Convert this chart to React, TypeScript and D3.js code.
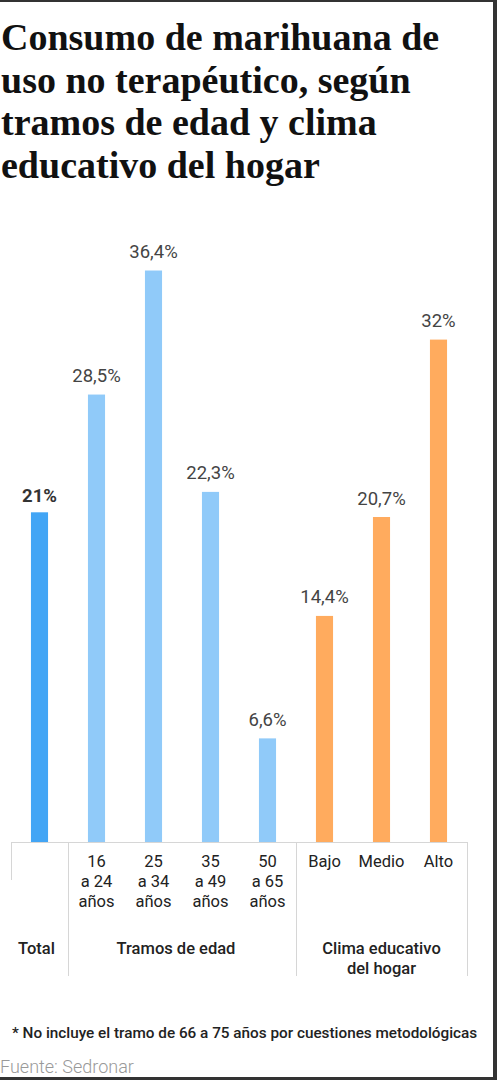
import React, { useEffect, useRef } from 'react';
import * as d3 from 'd3';

// datos del gráfico
const categories = ['Total', '16-24', '25-34', '35-49', '50-65', 'Bajo', 'Medio', 'Alto'];
const values = [21, 28.5, 36.4, 22.3, 6.6, 14.4, 20.7, 32];
const valueLabels = ['21%', '28,5%', '36,4%', '22,3%', '6,6%', '14,4%', '20,7%', '32%'];
const groups = ['total', 'edad', 'edad', 'edad', 'edad', 'clima', 'clima', 'clima'];
const tickLines = [[], ['16', 'a 24', 'años'], ['25', 'a 34', 'años'], ['35', 'a 49', 'años'], ['50', 'a 65', 'años'], ['Bajo'], ['Medio'], ['Alto']];
const groupLabels = [
  { from: 0, to: 0, lines: ['Total'] },
  { from: 1, to: 4, lines: ['Tramos de edad'] },
  { from: 5, to: 7, lines: ['Clima educativo', 'del hogar'] },
];
const titleLines = ['Consumo de marihuana de', 'uso no terapéutico, según', 'tramos de edad y clima', 'educativo del hogar'];
const footnote = '* No incluye el tramo de 66 a 75 años por cuestiones metodológicas';
const source = 'Fuente: Sedronar';

const WIDTH = 497;
const HEIGHT = 1080;
const BASELINE = 842;
const colors: Record<string, string> = { total: '#42a5f5', edad: '#90caf9', clima: '#ffab5e' };
const SANS = 'Roboto, "Noto Sans", sans-serif';

export default function App(): JSX.Element {
  const svgRef = useRef<SVGSVGElement>(null);

  useEffect(() => {
    const svg = d3.select(svgRef.current);
    svg.selectAll('*').remove();

    svg.append('rect').attr('width', WIDTH).attr('height', HEIGHT).attr('fill', '#fff');

    // marco
    svg.append('rect').attr('x', 0).attr('y', 0).attr('width', WIDTH).attr('height', 2).attr('fill', '#333');
    svg.append('rect').attr('x', WIDTH - 4).attr('y', 0).attr('width', 4).attr('height', HEIGHT).attr('fill', '#333');
    svg.append('rect').attr('x', 0).attr('y', HEIGHT - 3).attr('width', WIDTH).attr('height', 3).attr('fill', '#333');

    // titulo
    svg
      .append('g')
      .selectAll('text')
      .data(titleLines)
      .join('text')
      .attr('x', 1)
      .attr('y', (_d, i) => 50 + i * 42.5)
      .attr('font-family', '"Liberation Serif", serif')
      .attr('font-weight', 'bold')
      .attr('font-size', 38)
      .attr('fill', '#111')
      .text((d) => d);

    const x = d3.scaleBand<string>().domain(categories).range([11, 467]).paddingInner(0.7).paddingOuter(0.35);
    const y = d3.scaleLinear().domain([0, 36.4]).range([BASELINE, BASELINE - 36.4 * 15.7]);
    const step = x.step();
    const edge = (i: number) => 11 + i * step;

    const bars = svg.append('g');
    bars
      .selectAll('rect')
      .data(values)
      .join('rect')
      .attr('x', (_d, i) => x(categories[i]) as number)
      .attr('y', (d) => y(d))
      .attr('width', x.bandwidth())
      .attr('height', (d) => BASELINE - y(d))
      .attr('fill', (_d, i) => colors[groups[i]]);

    bars
      .selectAll('text')
      .data(values)
      .join('text')
      .attr('x', (_d, i) => (x(categories[i]) as number) + x.bandwidth() / 2)
      .attr('y', (d, i) => y(d) - (i === 0 ? 10 : 12.5))
      .attr('text-anchor', 'middle')
      .attr('font-family', SANS)
      .attr('font-size', 18.5)
      .attr('font-weight', (_d, i) => (i === 0 ? 'bold' : 'normal'))
      .attr('fill', (_d, i) => (i === 0 ? '#333' : '#444'))
      .text((_d, i) => valueLabels[i]);

    // eje y separadores
    svg.append('line').attr('x1', 11).attr('x2', 468).attr('y1', BASELINE + 0.5).attr('y2', BASELINE + 0.5).attr('stroke', '#d6d6d6');
    const seps = [
      { i: 0, end: 880 },
      { i: 1, end: 976 },
      { i: 5, end: 976 },
      { i: 8, end: 976 },
    ];
    svg
      .append('g')
      .selectAll('line')
      .data(seps)
      .join('line')
      .attr('x1', (d) => Math.round(edge(d.i)) + 0.5)
      .attr('x2', (d) => Math.round(edge(d.i)) + 0.5)
      .attr('y1', BASELINE)
      .attr('y2', (d) => d.end)
      .attr('stroke', '#d6d6d6');

    // etiquetas de categoria
    const ticks = svg.append('g');
    categories.forEach((c, i) => {
      const cx = (x(c) as number) + x.bandwidth() / 2;
      tickLines[i].forEach((line, j) => {
        ticks
          .append('text')
          .attr('x', cx)
          .attr('y', 866.5 + j * 20.2)
          .attr('text-anchor', 'middle')
          .attr('font-family', SANS)
          .attr('font-size', 16.5)
          .attr('fill', '#222')
          .text(line);
      });
    });

    const groupShift = [-3, -6, 0];
    groupLabels.forEach((g, k) => {
      const cx = ((x(categories[g.from]) as number) + (x(categories[g.to]) as number) + x.bandwidth()) / 2;
      g.lines.forEach((line, j) => {
        ticks
          .append('text')
          .attr('x', cx + groupShift[k])
          .attr('y', 953.5 + j * 20.5)
          .attr('text-anchor', 'middle')
          .attr('font-family', SANS)
          .attr('font-size', 16.5)
          .attr('font-weight', 500)
          .attr('fill', '#222')
          .text(line);
      });
    });

    svg
      .append('text')
      .attr('x', 12)
      .attr('y', 1037.5)
      .attr('font-family', SANS)
      .attr('font-size', 15.3)
      .attr('font-weight', 500)
      .attr('fill', '#222')
      .text(footnote);

    svg
      .append('text')
      .attr('x', 0)
      .attr('y', 1073)
      .attr('font-family', SANS)
      .attr('font-size', 18)
      .attr('font-weight', 300)
      .attr('fill', '#999')
      .text(source);
  }, []);

  return (
    <svg
      ref={svgRef}
      width={WIDTH}
      height={HEIGHT}
      style={{ position: 'absolute', left: 0, top: 0, display: 'block' }}
    />
  );
}
